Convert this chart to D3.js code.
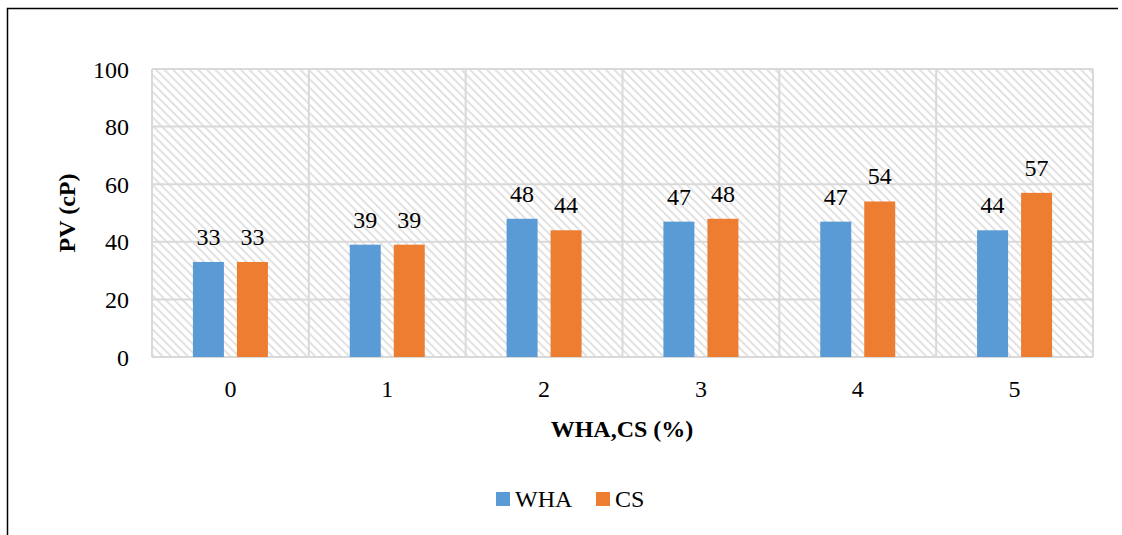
<!DOCTYPE html>
<html>
<head>
<meta charset="utf-8">
<script src="https://cdn.jsdelivr.net/npm/d3@7"></script>
</head>
<body style="margin:0; font-family: 'Liberation Serif', 'Times New Roman', serif">
<svg id="s" width="1122" height="535"></svg>
<script>
const categories = ["0", "1", "2", "3", "4", "5"];
const wha = [33, 39, 48, 47, 47, 44];
const cs = [33, 39, 44, 48, 54, 57];
const yTicks = [0, 20, 40, 60, 80, 100];
const seriesNames = ["WHA", "CS"];
const colors = ["#5b9bd5", "#ed7d31"];

const fontStack = '"Liberation Serif", "Times New Roman", Tinos, serif';

const svg = d3.select("#s");

// outer frame: only top and left edges are visible
svg.append("path")
  .attr("d", "M7.5,535 V8.5 H1118")
  .attr("fill", "none").attr("stroke", "#000").attr("stroke-width", 1.5);

const plotL = 152, plotR = 1093, plotT = 69, plotB = 357;

const x = d3.scaleBand().domain(categories).range([plotL, plotR]);
const y = d3.scaleLinear().domain([0, 100]).range([plotB, plotT]);

// hatch fill
const pat = svg.append("defs").append("pattern")
  .attr("id", "hatch")
  .attr("patternUnits", "userSpaceOnUse")
  .attr("width", 6).attr("height", 6)
  .attr("patternTransform", "rotate(-45)");
pat.append("rect").attr("width", 6).attr("height", 6).attr("fill", "#fff");
pat.append("line")
  .attr("x1", 1).attr("y1", 0).attr("x2", 1).attr("y2", 6)
  .attr("stroke", "#e2e2e2").attr("stroke-width", 2);

svg.append("rect")
  .attr("x", plotL).attr("y", plotT)
  .attr("width", plotR - plotL).attr("height", plotB - plotT)
  .attr("fill", "url(#hatch)");

// grid
svg.selectAll("line.h").data(yTicks).enter().append("line").attr("class", "h")
  .attr("x1", plotL).attr("x2", plotR)
  .attr("y1", d => y(d)).attr("y2", d => y(d))
  .attr("stroke", "#d9d9d9").attr("stroke-width", 2);
svg.selectAll("line.v").data(d3.range(categories.length + 1)).enter().append("line").attr("class", "v")
  .attr("x1", i => plotL + i * x.step()).attr("x2", i => plotL + i * x.step())
  .attr("y1", plotT).attr("y2", plotB)
  .attr("stroke", "#d9d9d9").attr("stroke-width", 2);

// bars
const barData = [];
categories.forEach((c, i) => {
  barData.push({ cat: c, s: "WHA", v: wha[i], color: colors[0] });
  barData.push({ cat: c, s: "CS", v: cs[i], color: colors[1] });
});

const bw = 31, gap = 13;
const offset = s => s === "WHA" ? -gap / 2 - bw : gap / 2;

svg.selectAll("rect.bar").data(barData).enter().append("rect").attr("class", "bar")
  .attr("x", d => x(d.cat) + x.bandwidth() / 2 + offset(d.s))
  .attr("y", d => y(d.v))
  .attr("width", bw)
  .attr("height", d => y(0) - y(d.v))
  .attr("fill", d => d.color);

// all texts
const texts = [];
yTicks.forEach(t => texts.push({ x: 129, y: y(t) + 8.5, a: "end", t: t }));
categories.forEach(c => texts.push({ x: x(c) + x.bandwidth() / 2, y: 397, a: "middle", t: c }));
barData.forEach(d => texts.push({
  x: x(d.cat) + x.bandwidth() / 2 + offset(d.s) + bw / 2, y: y(d.v) - 17, a: "middle", t: d.v
}));
texts.push({ x: 622, y: 437, a: "middle", t: "WHA,CS (%)", b: true });
texts.push({ x: 75, y: (plotT + plotB) / 2, a: "middle", t: "PV (cP)", b: true, r: true });

svg.selectAll("text.t").data(texts).enter().append("text").attr("class", "t")
  .attr("x", d => d.r ? 0 : d.x).attr("y", d => d.r ? 0 : d.y)
  .attr("transform", d => d.r ? `translate(${d.x},${d.y}) rotate(-90)` : null)
  .attr("text-anchor", d => d.a)
  .attr("font-family", fontStack)
  .attr("font-size", 24)
  .attr("font-weight", d => d.b ? "bold" : null)
  .style("font-family", fontStack)
  .text(d => d.t);

// legend
const legX = [496, 596];
seriesNames.forEach((s, i) => {
  svg.append("rect")
    .attr("x", legX[i]).attr("y", 492)
    .attr("width", 14).attr("height", 14)
    .attr("fill", colors[i]);
  svg.append("text")
    .attr("x", legX[i] + 19).attr("y", 507)
    .attr("font-family", fontStack)
    .attr("font-size", 24)
    .style("font-family", fontStack)
    .text(s);
});
</script>
</body>
</html>
